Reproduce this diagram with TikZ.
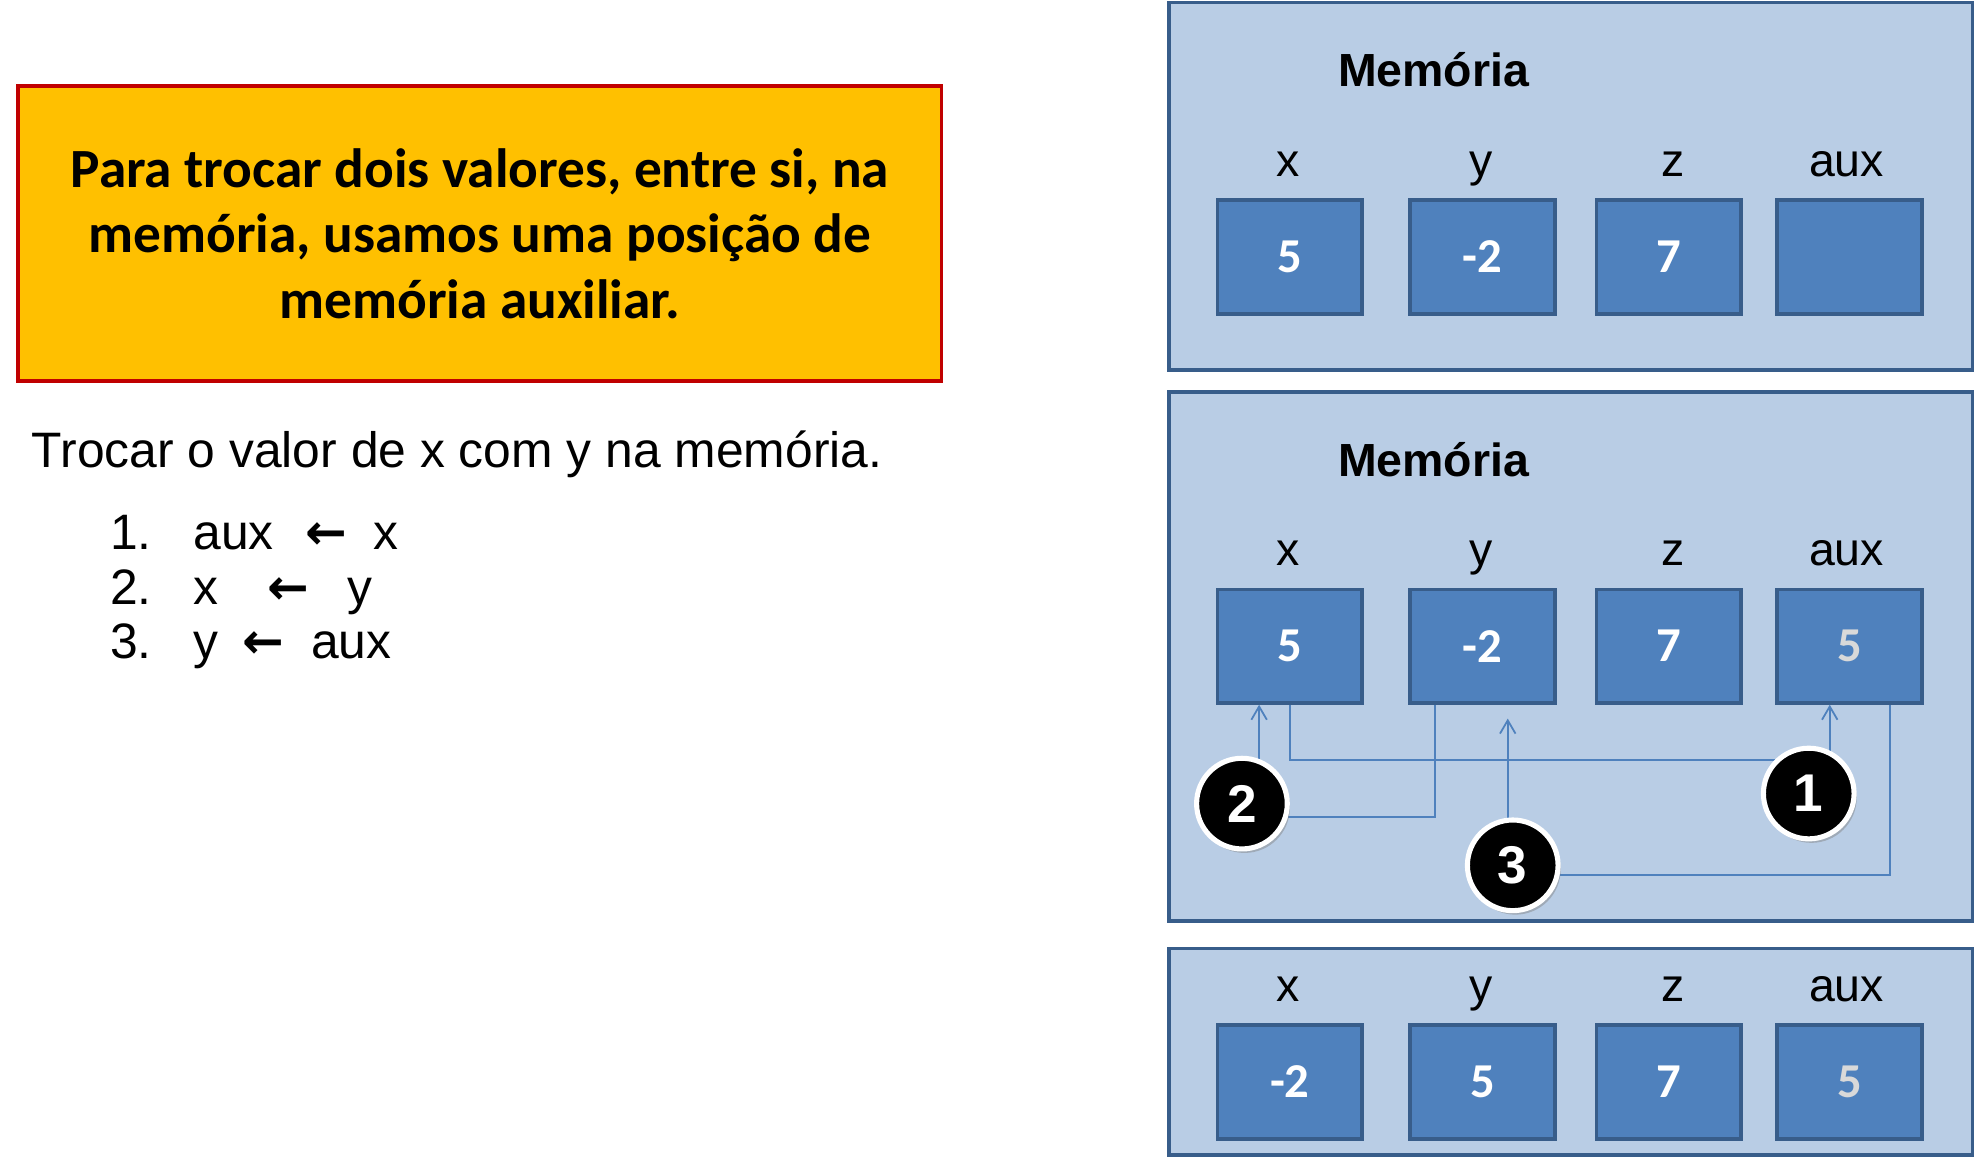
\documentclass[tikz,border=0pt]{standalone}
\usepackage{fontspec}
\setmainfont{Liberation Sans}
\newfontfamily\calibri{Carlito}
\newfontfamily\arrowfont{DejaVu Sans}
\usetikzlibrary{arrows.meta, calc, shadows}
\pgfdeclarelayer{front}
\pgfsetlayers{main,front}
\definecolor{panelFill}{HTML}{B9CDE5}
\definecolor{panelLine}{HTML}{385D8A}
\definecolor{cellFill}{HTML}{4F81BD}
\definecolor{noteFill}{HTML}{FFC000}
\definecolor{noteLine}{HTML}{C00000}
\definecolor{ghost}{HTML}{D9D9D9}
\newcommand{\getsArrow}{{\arrowfont\bfseries ←}}
\tikzset{
panel/.style={draw=panelLine, fill=panelFill, line width=1.7pt},
cell/.style={draw=panelLine, fill=cellFill, line width=1.7pt,
    minimum width=2.3cm, minimum height=1.8cm, inner sep=0pt,
    text=white, font=\calibri\bfseries\fontsize{22}{26}\selectfont},
varName/.style={anchor=base, inner sep=0pt, font=\fontsize{21}{25}\selectfont},
memTitle/.style={anchor=base west, inner sep=0pt, font=\bfseries\fontsize{21}{25}\selectfont},
listItem/.style={anchor=base west, inner sep=0pt, font=\fontsize{22.5}{26}\selectfont},
stepMark/.style={circle, fill=black, draw=white, line width=2.3pt,
    minimum size=1.44cm, inner sep=0pt, text=white,
    font=\bfseries\fontsize{24}{28}\selectfont,
    drop shadow={shadow xshift=1.2pt, shadow yshift=-1.8pt, opacity=.45}},
link/.style={draw=cellFill, line width=0.8pt},
linkArrow/.style={link, -{Straight Barb[length=6pt,width=7pt]}}
}

\begin{document}
\begin{tikzpicture}[x=0.02cm, y=-0.02cm]
    \useasboundingbox (0,0) rectangle (1568,919);

    % nota
    \node[draw=noteLine, fill=noteFill, line width=1.7pt,
        minimum width=14.66cm, minimum height=4.68cm, align=center,
        font=\calibri\bfseries\fontsize{25}{29.5}\selectfont] (note) at (381,185.5)
        {Para trocar dois valores, entre si, na\\memória, usamos uma posição de\\memória auxiliar.};

    \node[listItem] (task) at (25,371) {Trocar o valor de x com y na memória.};
    \node[listItem] (s_1) at (87,436) {1.\hspace{19pt}aux\hspace{14.5pt}\getsArrow\hspace{11.5pt}x};
    \node[listItem] (s_2) at (87,480) {2.\hspace{19pt}x\hspace{22pt}\getsArrow\hspace{17.5pt}y};
    \node[listItem] (s_3) at (87,523) {3.\hspace{19pt}y\hspace{11pt}\getsArrow\hspace{12pt}aux};

    % memoria antes
    \draw[panel] (928,2) rectangle (1566,294);
    \node[memTitle] (m_1) at (1062,69) {Memória};
    \node[varName] (lx_1) at (1023,140) {x};
    \node[varName] (ly_1) at (1176,140) {y};
    \node[varName] (lz_1) at (1328,140) {z};
    \node[varName] (laux_1) at (1466,140) {aux};
    \node[cell] (x_1) at (1024,204) {5};
    \node[cell] (y_1) at (1177,204) {-2};
    \node[cell] (z_1) at (1325,204) {7};
    \node[cell] (aux_1) at (1468.5,204) {};

    % memoria durante a troca
    \draw[panel] (928,311) rectangle (1566,731);
    \node[memTitle] (m_2) at (1062,378) {Memória};
    \node[varName] (lx_2) at (1023,449) {x};
    \node[varName] (ly_2) at (1176,449) {y};
    \node[varName] (lz_2) at (1328,449) {z};
    \node[varName] (laux_2) at (1466,449) {aux};
    \node[cell] (x_2) at (1024,513) {5};
    \node[cell] (y_2) at (1177,513) {-2};
    \node[cell] (z_2) at (1325,513) {7};
    \node[cell, text=ghost] (aux_2) at (1468.5,513) {5};

    % os circulos ficam por cima das linhas
    \begin{pgfonlayer}{front}
    \node[stepMark] (c_1) at (1436,630) {1};
    \node[stepMark] (c_2) at (986,638) {2};
    \node[stepMark] (c_3) at (1201,687) {3};
    \end{pgfonlayer}

    \draw[link] (x_2.south) |- (c_1.north west);
    \draw[linkArrow] (c_1.64) -- (c_1.64 |- aux_2.south);
    \draw[link] (c_2.-16) -| ($(y_2.south west)!0.18!(y_2.south east)$);
    \draw[linkArrow] (c_2.69) -- (c_2.69 |- x_2.south);
    \draw[link] (c_3.-12) -| ($(aux_2.south west)!0.77!(aux_2.south east)$);
    \draw[linkArrow] (c_3.96) -- ($(c_3.96 |- y_2.south)+(0,11)$);

    % memoria depois
    \draw[panel] (928,753) rectangle (1566,917);
    \node[varName] (lx_3) at (1023,795) {x};
    \node[varName] (ly_3) at (1176,795) {y};
    \node[varName] (lz_3) at (1328,795) {z};
    \node[varName] (laux_3) at (1466,795) {aux};
    \node[cell] (x_3) at (1024,859) {-2};
    \node[cell] (y_3) at (1177,859) {5};
    \node[cell] (z_3) at (1325,859) {7};
    \node[cell, text=ghost] (aux_3) at (1468.5,859) {5};
\end{tikzpicture}
\end{document}
